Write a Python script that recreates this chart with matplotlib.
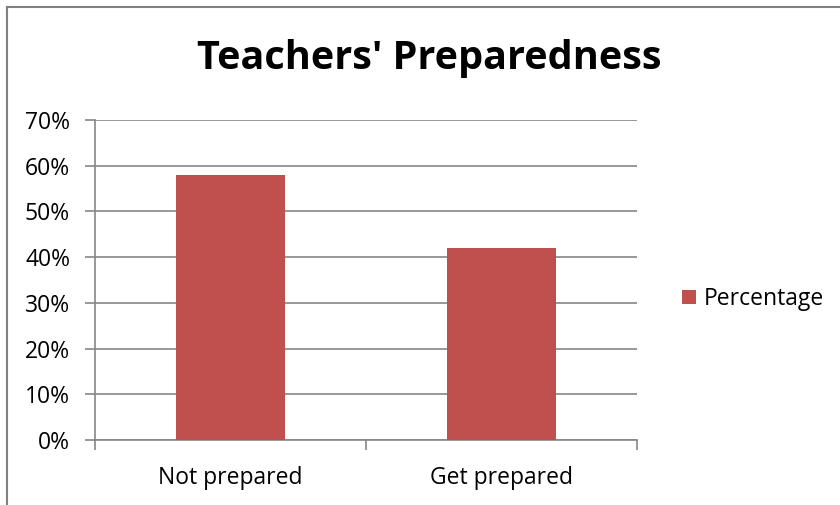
import matplotlib.pyplot as plt
from matplotlib.lines import Line2D
from matplotlib.ticker import FuncFormatter, MultipleLocator

# Chart data
categories = ["Not prepared", "Get prepared"]
percentages = [58, 42]
series_name = "Percentage"

bar_color = "#C0504D"
grid_color = "#868686"

plt.rcParams['font.family'] = ['Open Sans', 'DejaVu Sans']

fig = plt.figure(figsize=(8.4, 5.05), dpi=100)
ax = fig.add_axes([95 / 840, 1 - 440 / 505, 542 / 840, 320 / 505])

x = list(range(len(categories)))
ax.bar(x, percentages, width=0.4, color=bar_color, label=series_name, zorder=3)

ax.set_xlim(-0.5, len(categories) - 0.5)
ax.set_ylim(0, 70)
ax.yaxis.set_major_locator(MultipleLocator(10))
ax.yaxis.set_major_formatter(FuncFormatter(lambda v, p: f"{int(v)}%"))
ax.grid(axis='y', color=grid_color, linewidth=1.2, zorder=0)

ax.set_xticks([i + 0.5 for i in range(-1, len(categories))])
ax.set_xticklabels([])
ax.set_xticks(x, minor=True)
ax.set_xticklabels(categories, minor=True)
ax.tick_params(axis='x', which='major', length=7, color=grid_color, width=1.2, direction='out')
ax.tick_params(axis='x', which='minor', length=0, pad=19, labelsize=16.5)
ax.tick_params(axis='y', length=7, color=grid_color, width=1.2, labelsize=16.5, pad=11)

for side in ['top', 'right']:
    ax.spines[side].set_visible(False)
for side in ['left', 'bottom']:
    ax.spines[side].set_color(grid_color)
    ax.spines[side].set_linewidth(1.2)

fig.text(429 / 840, 1 - 58 / 505, "Teachers' Preparedness", ha='center', va='center',
         fontsize=28.5, fontweight='bold')

fig.legend(loc='center left', bbox_to_anchor=(682 / 840, 1 - 299 / 505), frameon=False,
           borderpad=0, borderaxespad=0, fontsize=16.5,
           handlelength=0.6, handleheight=0.6, handletextpad=0.35)

# outer chart border (left and top only, as in the reference)
fig.add_artist(Line2D([7 / 840, 7 / 840], [0, 1 - 7 / 505], transform=fig.transFigure,
                      color='#808080', linewidth=1.5))
fig.add_artist(Line2D([7 / 840, 1], [1 - 7 / 505, 1 - 7 / 505], transform=fig.transFigure,
                      color='#808080', linewidth=1.5))

fig.savefig("out.png", dpi=100)
